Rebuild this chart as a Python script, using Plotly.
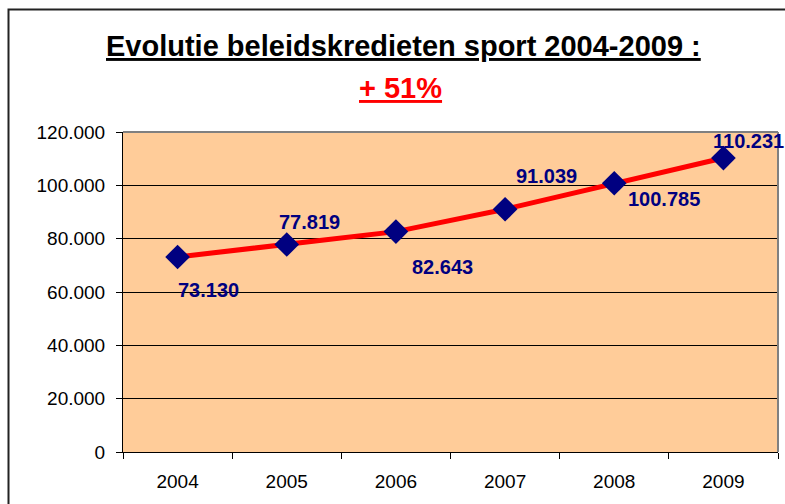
import plotly.graph_objects as go

years = ["2004", "2005", "2006", "2007", "2008", "2009"]
values = [73130, 77819, 82643, 91039, 100785, 110231]
y_ticks = [0, 20000, 40000, 60000, 80000, 100000, 120000]
title_main = "Evolutie beleidskredieten sport 2004-2009 :"
title_sub = "+ 51%"

# label offsets (pixels) relative to each point: (dx, dy up)
label_dx = [31, 23, 47, 41, 50, 25]
label_dy = [-33, 22, -35, 33, -16, 17]

def fmt(v):
    return f"{v:,}".replace(",", ".")

fig = go.Figure()
fig.add_trace(go.Scatter(
    x=years, y=values, mode="lines+markers",
    line=dict(color="#FF0000", width=5),
    marker=dict(symbol="diamond", size=19, color="#000080"),
    showlegend=False, hoverinfo="skip",
))

annotations = []
for i, (v, dx, dy) in enumerate(zip(values, label_dx, label_dy)):
    annotations.append(dict(
        x=i, y=v, xref="x", yref="y", text=f"<b>{fmt(v)}</b>",
        showarrow=False, xshift=dx, yshift=dy,
        font=dict(family="Arial", size=20, color="#000080"),
        xanchor="center", yanchor="middle",
    ))

annotations.append(dict(
    x=(403.5 - 123) / 655, y=(452 - 46) / 320, xref="paper", yref="paper",
    text=f"<b><u>{title_main}</u></b>", showarrow=False,
    font=dict(family="Arial", size=29, color="#000000"),
    xanchor="center", yanchor="middle",
))
annotations.append(dict(
    x=(400.5 - 123) / 655, y=(452 - 88) / 320, xref="paper", yref="paper",
    text=f"<b><u>{title_sub}</u></b>", showarrow=False,
    font=dict(family="Arial", size=29, color="#FF0000"),
    xanchor="center", yanchor="middle",
))

shapes = [
    # outer chart border (extends beyond the visible page)
    dict(type="rect", xref="paper", yref="paper",
         x0=(8.5 - 123) / 655, x1=1.1, y0=-0.4, y1=(452 - 9.5) / 320,
         line=dict(color="#222222", width=2), fillcolor="rgba(0,0,0,0)", layer="below"),
    # top and right plot-area border in gray
    dict(type="line", xref="paper", yref="paper", x0=0, x1=1, y0=1, y1=1,
         line=dict(color="#808080", width=2)),
    dict(type="line", xref="paper", yref="paper", x0=1, x1=1, y0=0, y1=1,
         line=dict(color="#808080", width=2)),
]

fig.update_layout(
    width=785, height=504,
    margin=dict(l=123, r=7, t=132, b=52),
    paper_bgcolor="#FFFFFF", plot_bgcolor="#FFCC99",
    font=dict(family="Arial", color="#000000"),
    separators=",.",
    annotations=annotations, shapes=shapes,
    xaxis=dict(
        type="category", tickson="boundaries", ticks="outside", ticklen=6,
        tickcolor="#000000", showline=True, linecolor="#000000", linewidth=1,
        showgrid=False, tickfont=dict(size=19, color="#000000"),
        ticklabelstandoff=12, range=[-0.5, 5.5],
    ),
    yaxis=dict(
        range=[0, 120000], tickvals=y_ticks,
        ticktext=[fmt(t) for t in y_ticks],
        ticks="outside", ticklen=6, tickcolor="#000000",
        showline=True, linecolor="#000000", linewidth=1,
        showgrid=True, gridcolor="#000000", gridwidth=1,
        zeroline=False, tickfont=dict(size=19, color="#000000"),
        ticklabelstandoff=7,
    ),
)

fig.write_html(
    "out.html",
    config={"displayModeBar": False},
    post_script="document.body.style.margin='0';document.body.style.overflow='hidden';",
)
